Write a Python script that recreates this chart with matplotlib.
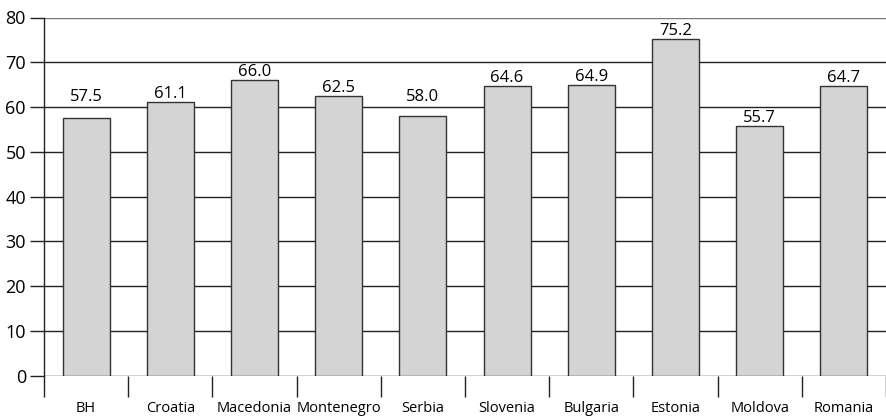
import numpy as np
import matplotlib
matplotlib.use("Agg")
import matplotlib.pyplot as plt

# data
countries = ["BH", "Croatia", "Macedonia", "Montenegro", "Serbia",
             "Slovenia", "Bulgaria", "Estonia", "Moldova", "Romania"]
values = [57.5, 61.1, 66.0, 62.5, 58.0, 64.6, 64.9, 75.2, 55.7, 64.7]
yticks = [0, 10, 20, 30, 40, 50, 60, 70, 80]

plt.rcParams['font.family'] = ['Open Sans', 'DejaVu Sans']

fig = plt.figure(figsize=(8.86, 4.16), dpi=100)
ax = fig.add_axes([44/886, 40.3/416, 1 - 44/886, (375.7 - 17.5)/416])

x = np.arange(len(countries)) + 0.5
ax.bar(x, values, width=0.56, color="#d4d4d4", edgecolor="#333333",
       linewidth=1.0, zorder=3)

ax.set_xlim(0, len(countries))
ax.set_ylim(0, 80)

# value labels: just above the bar, or lifted above a gridline they would cross
px = 80 / (375.7 - 17.5)   # data units per pixel
lab_h = 12 * px
for xi, v in zip(x, values):
    bottom = v + 4 * px
    for g in yticks:
        if bottom < g < bottom + lab_h:
            bottom = g + 6 * px
    ax.text(xi, bottom, f"{v:.1f}", ha="center", va="baseline", fontsize=12)

ax.set_yticks(yticks)
ax.set_yticklabels([str(t) for t in yticks], fontsize=13)
ax.tick_params(axis="y", length=10, width=1, color="#222222", pad=3)
ax.grid(axis="y", color="#222222", linewidth=1, zorder=0)
ax.get_ygridlines()[-1].set_color("#777777")

# category separators below axis, labels at the centers
ax.set_xticks(np.arange(len(countries) + 1))
ax.set_xticklabels([])
ax.tick_params(axis="x", which="major", length=15, width=1, color="#222222")
ax.set_xticks(x, minor=True)
ax.set_xticklabels(countries, minor=True, fontsize=10.5)
ax.tick_params(axis="x", which="minor", length=0, pad=18)

for s in ["top", "right", "bottom"]:
    ax.spines[s].set_visible(False)
ax.spines["left"].set_color("#222222")
ax.spines["left"].set_linewidth(1)

fig.savefig("out.png", dpi=100)
